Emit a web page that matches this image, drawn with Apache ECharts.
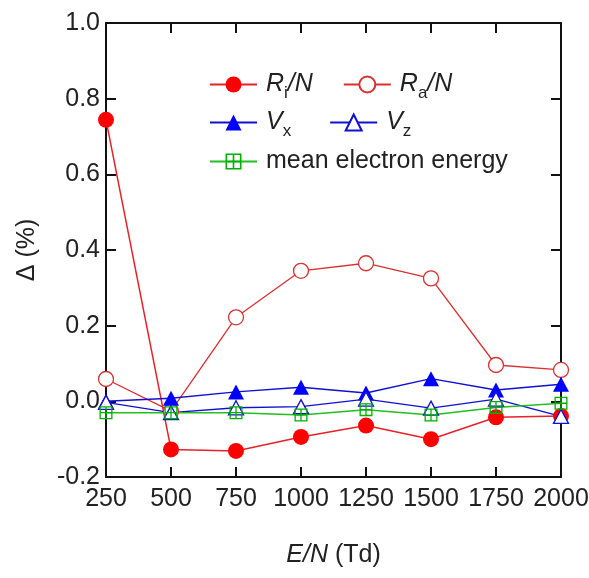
<!DOCTYPE html>
<html>
<head>
<meta charset="utf-8">
<script src="https://cdn.jsdelivr.net/npm/echarts@6/dist/echarts.min.js"></script>
<style>html,body{margin:0;padding:0;background:#fff;}#c{width:589px;height:578px;}</style>
</head>
<body>
<div id="c"></div>
<script>
const xValues = [250, 500, 750, 1000, 1250, 1500, 1750, 2000];
const riN   = [0.744, -0.127, -0.131, -0.094, -0.064, -0.100, -0.042, -0.039];
const raN   = [0.059, -0.026, 0.222, 0.345, 0.365, 0.325, 0.096, 0.083];
const vx    = [0.000, 0.008, 0.025, 0.037, 0.022, 0.060, 0.030, 0.045];
const vz    = [-0.003, -0.030, -0.017, -0.014, 0.006, -0.018, 0.006, -0.040];
const meanE = [-0.030, -0.030, -0.030, -0.036, -0.022, -0.036, -0.016, -0.005];
const yTicks = [-0.2, 0.0, 0.2, 0.4, 0.6, 0.8, 1.0];

const FONT = 'Liberation Sans, Arial, sans-serif';
const sqCross = 'path://M0,0H12V12H0Z M1.2,1.2V5.4H5.4V1.2Z M6.6,1.2V5.4H10.8V1.2Z M1.2,6.6V10.8H5.4V6.6Z M6.6,6.6V10.8H10.8V6.6Z';

function pair(a){ return xValues.map((x,i)=>[x,a[i]]); }

const legendRich = {
  i: {fontStyle:'italic', fontSize:25, fontFamily:FONT, color:'#222'},
  n: {fontSize:25, fontFamily:FONT, color:'#222'},
  sub: {fontSize:17, fontFamily:FONT, color:'#222', padding:[18,0,0,0]}
};
const legendFmt = {
  'Ri/N': '{i|R}{sub|i}{i|/N}',
  'Ra/N': '{i|R}{sub|a}{i|/N}',
  'Vx': '{i|V}{sub|x}',
  'Vz': '{i|V}{sub|z}',
  'mean electron energy': '{n|mean electron energy}'
};
function mkLegend(data, left, top, gap){
  return {
    data: data, left: left, top: top, orient:'horizontal',
    itemWidth: 47, itemHeight: 20, itemGap: gap,
    formatter: n => legendFmt[n],
    textStyle: {fontSize:25, fontFamily:FONT, color:'#222', rich: legendRich, padding:[0,0,0,4]},
    selectedMode: false
  };
}
function tick(){ return {show:true, inside:true, length:10, lineStyle:{color:'#111111', width:2}}; }
function axisLine(){ return {show:true, onZero:false, lineStyle:{color:'#111', width:2}}; }

const chart = echarts.init(document.getElementById('c'));
chart.setOption({
  backgroundColor:'#fff',
  animation:false,
  grid:{left:106, right:28, top:23, bottom:101, outerBoundsMode:'none', containLabel:false},
  legend:[
    mkLegend(['Ri/N','Ra/N'], 204, 67, 30),
    mkLegend(['Vx','Vz'], 204, 105, 38),
    mkLegend(['mean electron energy'], 204, 144, 10)
  ],
  xAxis:[{
    type:'value', min:250, max:2000, interval:250,
    name:'{i|E/N} (Td)', nameLocation:'middle', nameGap:66,
    nameTextStyle:{fontSize:25, fontFamily:FONT, color:'#222', rich:{i:{fontStyle:'italic', fontSize:25, fontFamily:FONT, color:'#222'}}},
    axisLine:axisLine(), axisTick:tick(),
    axisLabel:{fontSize:25, fontFamily:FONT, color:'#222', margin:10, formatter:v=>String(v)},
    splitLine:{show:false}
  },{
    type:'value', position:'top', min:250, max:2000, interval:250,
    axisLine:axisLine(), axisTick:tick(),
    axisLabel:{show:false}, splitLine:{show:false}
  }],
  yAxis:[{
    type:'value', min:-0.2, max:1.0, interval:0.2,
    name:'Δ (%)', nameLocation:'middle', nameGap:66,
    nameTextStyle:{fontSize:25, fontFamily:FONT, color:'#222'},
    axisLine:axisLine(), axisTick:tick(),
    axisLabel:{fontSize:25, fontFamily:FONT, color:'#222', margin:6, formatter:v=>v.toFixed(1)},
    splitLine:{show:false}
  },{
    type:'value', position:'right', min:-0.2, max:1.0, interval:0.2,
    axisLine:axisLine(), axisTick:tick(),
    axisLabel:{show:false}, splitLine:{show:false}
  }],
  series:[
    {name:'Ri/N', type:'line', data:pair(riN), symbol:'circle', symbolSize:16,
     itemStyle:{color:'#ff0000'}, lineStyle:{color:'#e8202a', width:1.5}},
    {name:'Ra/N', type:'line', data:pair(raN), symbol:'circle', symbolSize:15,
     itemStyle:{color:'#ffffff', borderColor:'#d83030', borderWidth:1.3}, lineStyle:{color:'#d83030', width:1.3}},
    {name:'Vx', type:'line', data:pair(vx), symbol:'triangle', symbolSize:[16,15],
     itemStyle:{color:'#0000ff'}, lineStyle:{color:'#1010d0', width:1.5}},
    {name:'Vz', type:'line', data:pair(vz), symbol:'triangle', symbolSize:[15,14],
     itemStyle:{color:'#ffffff', borderColor:'#1010d0', borderWidth:1.3}, lineStyle:{color:'#1010d0', width:1.3}},
    {name:'mean electron energy', type:'line', data:pair(meanE), symbol:sqCross, symbolSize:13,
     itemStyle:{color:'#00b000'}, lineStyle:{color:'#20c020', width:1.5}}
  ]
});
</script>
</body>
</html>
